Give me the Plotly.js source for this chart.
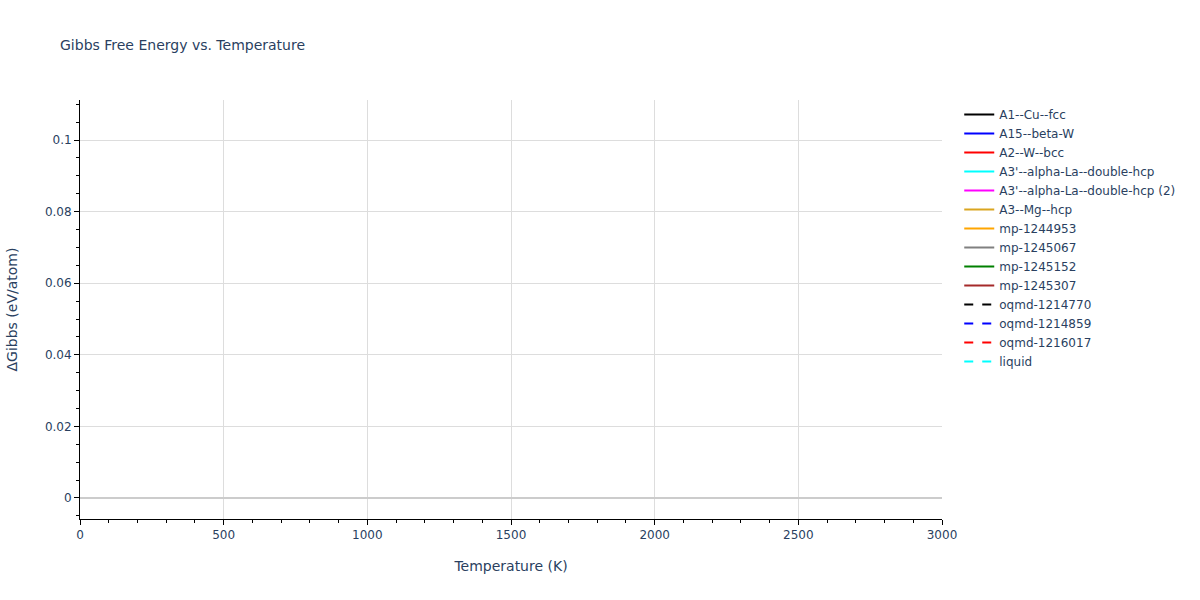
<!DOCTYPE html>
<html>
<head>
<meta charset="utf-8">
<script src="https://cdn.plot.ly/plotly-3.0.1.min.js"></script>
<style>html,body{margin:0;padding:0;}#chart{width:1200px;height:600px;}</style>
</head>
<body>
<div id="chart"></div>
<script>
// Phase names as listed in the legend
const phaseNames = [
  "A1--Cu--fcc", "A15--beta-W", "A2--W--bcc", "A3'--alpha-La--double-hcp",
  "A3'--alpha-La--double-hcp (2)", "A3--Mg--hcp", "mp-1244953", "mp-1245067",
  "mp-1245152", "mp-1245307", "oqmd-1214770", "oqmd-1214859", "oqmd-1216017", "liquid"
];
const phaseColors = [
  "black", "blue", "red", "cyan", "magenta", "goldenrod", "orange", "gray",
  "green", "brown", "black", "blue", "red", "cyan"
];
const phaseDash = [
  "solid", "solid", "solid", "solid", "solid", "solid", "solid", "solid",
  "solid", "solid", "dash", "dash", "dash", "dash"
];
// No curves are visible in the reference: every series holds no plotted value
const temperatures = [null];
const gibbsValues = [null];

const traces = phaseNames.map((n, i) => ({
  type: "scatter", mode: "lines", name: n,
  x: temperatures, y: gibbsValues,
  line: {color: phaseColors[i], dash: phaseDash[i], width: 2}
}));

const layout = {
  width: 1200, height: 600,
  font: {family: "Verdana, 'DejaVu Sans', sans-serif", color: "#2a3f5f", size: 12},
  title: {text: "Gibbs Free Energy vs. Temperature", x: 0.05, xanchor: "left", y: 0.925, yanchor: "middle", font: {size: 14}},
  margin: {l: 80, r: 258, t: 100, b: 81},
  plot_bgcolor: "white", paper_bgcolor: "white",
  xaxis: {
    title: {text: "Temperature (K)", font: {size: 14}},
    range: [0, 3000], dtick: 500,
    showline: true, linecolor: "black", linewidth: 1,
    ticks: "outside", tickcolor: "black",
    minor: {dtick: 100, ticks: "outside", tickcolor: "black", showgrid: false},
    showgrid: true, gridcolor: "#dddddd", zeroline: false
  },
  yaxis: {
    title: {text: "ΔGibbs (eV/atom)", font: {size: 14}, standoff: 23},
    automargin: true,
    range: [-0.00587, 0.1112], dtick: 0.02,
    showline: true, linecolor: "black", linewidth: 1,
    ticks: "outside", tickcolor: "black",
    minor: {dtick: 0.005, ticks: "outside", tickcolor: "black", showgrid: false},
    showgrid: true, gridcolor: "#dddddd",
    zeroline: true, zerolinecolor: "#cccccc", zerolinewidth: 2
  },
  legend: {x: 1.02, y: 1, xanchor: "left", yanchor: "top", font: {size: 12}},
  showlegend: true
};

Plotly.newPlot("chart", traces, layout, {displayModeBar: false});
</script>
</body>
</html>
